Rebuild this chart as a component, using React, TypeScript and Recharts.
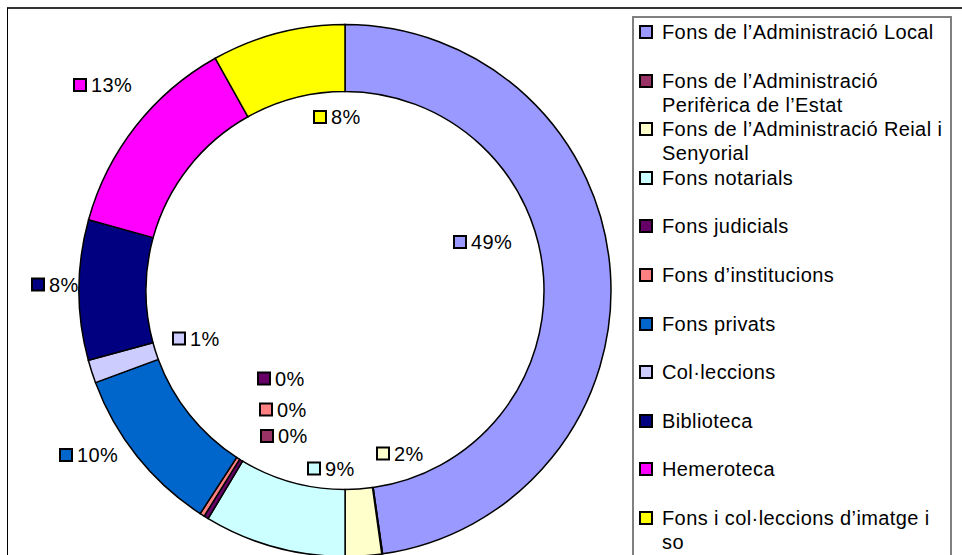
import { Legend, Pie, PieChart } from "recharts";

const categories = [
  "Fons de l’Administració Local",
  "Fons de l’Administració Perifèrica de l’Estat",
  "Fons de l’Administració Reial i Senyorial",
  "Fons notarials",
  "Fons judicials",
  "Fons d’institucions",
  "Fons privats",
  "Col·leccions",
  "Biblioteca",
  "Hemeroteca",
  "Fons i col·leccions d’imatge i so",
];

// share of each group (%)
const shares = [47.7, 0.05, 2.2, 8.6, 0.28, 0.28, 10.2, 1.4, 8.5, 12.6, 8.1];

// percentages as printed on the data labels
const pctLabels = ["49%", "0%", "2%", "9%", "0%", "0%", "10%", "1%", "8%", "13%", "8%"];

const colors = [
  "#9999FF",
  "#993366",
  "#FFFFCC",
  "#CCFFFF",
  "#660066",
  "#FF8080",
  "#0066CC",
  "#CCCCFF",
  "#000080",
  "#FF00FF",
  "#FFFF00",
];

// where each data label was dragged to, relative to the ring centre
const labelSpots = [
  [108, -48.5],
  [-85, 145.5],
  [31, 163],
  [-38, 178],
  [-88, 88],
  [-86, 119],
  [-286, 164.5],
  [-173, 48],
  [-314, -6],
  [-272, -205.5],
  [-32, -173.5],
];

const data = categories.map((name, i) => ({ name, value: shares[i], fill: colors[i] }));

const font = "'Liberation Sans', Arial, sans-serif";

const renderLabel = (props: any) => {
  const { cx, cy, index } = props;
  const [dx, dy] = labelSpots[index];
  const x = cx + dx;
  const y = cy + dy;
  return (
    <g key={`lbl-${index}`}>
      <rect x={x + 1} y={y - 6} width={12} height={12} fill={colors[index]} stroke="#000" strokeWidth={2} />
      <text
        x={x + 18}
        y={y}
        dominantBaseline="central"
        fontFamily={font}
        fontSize={20}
        letterSpacing={0.4}
        fill="#000"
      >
        {pctLabels[index]}
      </text>
    </g>
  );
};

// legend keeps the series order (recharts would sort it by name)
const renderLegend = () => (
  <div
    style={{
      boxSizing: "border-box",
      width: 320,
      height: 560,
      border: "2px solid #808080",
      background: "#fff",
      paddingTop: 2,
      fontFamily: font,
      fontSize: 20,
      letterSpacing: 0.4,
      color: "#000",
    }}
  >
    {categories.map((name, i) => (
      <div key={name} style={{ display: "flex", height: 48.6, lineHeight: "24px" }}>
        <div
          style={{
            flex: "none",
            width: 10,
            height: 10,
            marginLeft: 5,
            marginTop: 5,
            border: "2px solid #000",
            background: colors[i],
          }}
        />
        <div style={{ width: 288, marginLeft: 9, textAlign: "left" }}>{name}</div>
      </div>
    ))}
  </div>
);

export default function App() {
  return (
    <div style={{ position: "relative", width: 962, height: 555, overflow: "hidden", background: "#fff" }}>
      <style>{"body{margin:0;overflow:hidden}"}</style>
      <div
        style={{
          position: "absolute",
          left: 7,
          top: 7,
          width: 1000,
          height: 600,
          borderTop: "2px solid #333",
          borderLeft: "1.5px solid #000",
        }}
      />
      <div style={{ position: "absolute", left: 0, top: 0 }}>
        <PieChart width={962} height={600} margin={{ top: 0, right: 0, bottom: 0, left: 0 }}>
          <Pie
            data={data}
            dataKey="value"
            nameKey="name"
            cx={345}
            cy={290.5}
            innerRadius={199}
            outerRadius={266}
            startAngle={90}
            endAngle={-270}
            stroke="#000"
            strokeWidth={1.5}
            label={renderLabel}
            labelLine={false}
            isAnimationActive={false}
          />
          <Legend
            layout="vertical"
            align="right"
            verticalAlign="middle"
            content={renderLegend}
            wrapperStyle={{ left: 632, top: 16, width: 320, right: "auto", bottom: "auto" }}
          />
        </PieChart>
      </div>
    </div>
  );
}
